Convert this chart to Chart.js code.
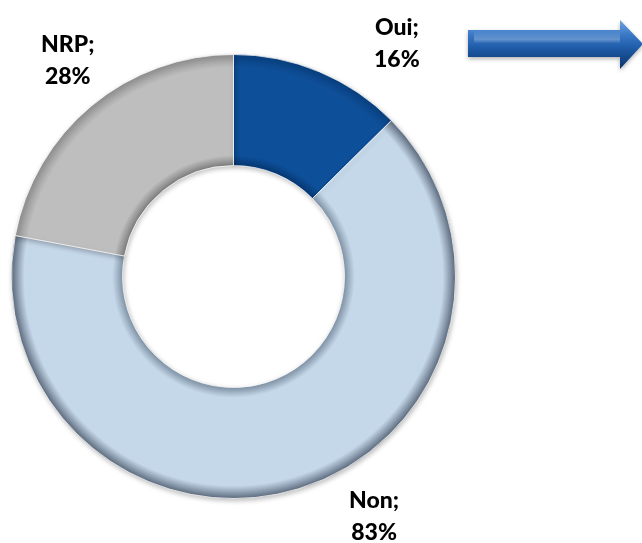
<!DOCTYPE html>
<html>
<head>
<meta charset="utf-8">
<script src="https://cdn.jsdelivr.net/npm/chart.js@4.4.0/dist/chart.umd.min.js"></script>
<style>
  html, body { margin: 0; padding: 0; background: #ffffff; }
  .chart-size { position: relative; width: 642px; height: 543px; }
</style>
</head>
<body>
<div class="chart-size">
  <canvas id="chart"></canvas>
</div>
<script>
// data
const categories = ['Oui', 'Non', 'NRP'];
const percentValues = [16, 83, 28];

// styles
const sliceColors = ['#0E4F99', '#C5D8EA', '#BEBEBE'];
const sliceEdges = [
    { inner: '#063873', outer: '#093F7E' },
    { inner: '#8497AA', outer: '#59687A' },
    { inner: '#7F7F7F', outer: '#8E8E8E' }
];
// label placement relative to each slice: angle shift (deg), distance beyond outer edge (px)
const labelPlacement = [
    { shift: 12.3, dist: 63 },
    { shift: -13.5, dist: 55 },
    { shift: 2.3, dist: 51 }
];
const labelFont = '900 23px Lato';
const lineGap = 32;

function ringGradient(context) {
    const i = context.dataIndex;
    const area = context.chart.chartArea;
    if (!area) return sliceColors[i];
    const cx = (area.left + area.right) / 2;
    const cy = (area.top + area.bottom) / 2;
    const outer = Math.min(area.right - area.left, area.bottom - area.top) / 2;
    const inner = outer * 0.5;
    const g = context.chart.ctx.createRadialGradient(cx, cy, inner, cx, cy, outer);
    g.addColorStop(0, sliceEdges[i].inner);
    g.addColorStop(0.09, sliceColors[i]);
    g.addColorStop(0.88, sliceColors[i]);
    g.addColorStop(1, sliceEdges[i].outer);
    return g;
}

const labelsPlugin = {
    id: 'sliceLabels',
    afterDatasetsDraw(chart) {
        const ctx = chart.ctx;
        const meta = chart.getDatasetMeta(0);
        ctx.save();
        ctx.font = labelFont;
        ctx.fillStyle = '#000000';
        ctx.textAlign = 'center';
        ctx.textBaseline = 'alphabetic';
        meta.data.forEach((arc, i) => {
            const p = arc.getProps(['x', 'y', 'startAngle', 'endAngle', 'outerRadius'], true);
            const mid = (p.startAngle + p.endAngle) / 2 + labelPlacement[i].shift * Math.PI / 180;
            const r = p.outerRadius + labelPlacement[i].dist;
            const lx = p.x + Math.cos(mid) * r;
            const ly = p.y + Math.sin(mid) * r;
            ctx.fillText(categories[i] + ';', lx, ly - lineGap / 2 + 8.5);
            ctx.fillText(percentValues[i] + '%', lx, ly + lineGap / 2 + 8.5);
        });
        ctx.restore();
    }
};

const shadowPlugin = {
    id: 'ringShadow',
    beforeDatasetsDraw(chart) {
        const ctx = chart.ctx;
        ctx.save();
        ctx.shadowColor = 'rgba(0,0,0,0.25)';
        ctx.shadowBlur = 5;
        ctx.shadowOffsetX = 1;
        ctx.shadowOffsetY = 2;
    },
    afterDatasetsDraw(chart) {
        chart.ctx.restore();
    }
};

// decorative arrow in the top right corner
const arrowPlugin = {
    id: 'arrow',
    afterDraw(chart) {
        const ctx = chart.ctx;
        ctx.save();
        const g = ctx.createLinearGradient(0, 20, 0, 70);
        g.addColorStop(0, '#6FA2DD');
        g.addColorStop(0.3, '#3A78C6');
        g.addColorStop(0.55, '#1F5CA9');
        g.addColorStop(1, '#0A3166');
        ctx.shadowColor = 'rgba(0,0,0,0.3)';
        ctx.shadowBlur = 4;
        ctx.shadowOffsetY = 2;
        ctx.beginPath();
        ctx.moveTo(468, 30);
        ctx.lineTo(620, 30);
        ctx.lineTo(620, 20);
        ctx.lineTo(643, 44);
        ctx.lineTo(620, 69);
        ctx.lineTo(620, 57);
        ctx.lineTo(468, 57);
        ctx.closePath();
        ctx.fillStyle = g;
        ctx.fill();
        ctx.shadowColor = 'transparent';
        // bevel highlight on the shaft
        const h = ctx.createLinearGradient(0, 30, 0, 57);
        h.addColorStop(0, 'rgba(255,255,255,0.0)');
        h.addColorStop(0.35, 'rgba(255,255,255,0.25)');
        h.addColorStop(0.5, 'rgba(255,255,255,0.0)');
        ctx.fillStyle = h;
        ctx.fillRect(474, 31, 146, 25);
        ctx.restore();
    }
};

const ctx = document.getElementById('chart').getContext('2d');
new Chart(ctx, {
    type: 'doughnut',
    data: {
        labels: categories,
        datasets: [{
            data: percentValues,
            backgroundColor: ringGradient,
            borderColor: 'rgba(255,255,255,0.7)',
            borderWidth: 1,
            hoverOffset: 0
        }]
    },
    options: {
        responsive: true,
        maintainAspectRatio: false,
        animation: false,
        cutout: '50%',
        layout: { padding: { left: 11, right: 186, top: 54, bottom: 44 } },
        plugins: {
            legend: { display: false },
            tooltip: { enabled: false }
        }
    },
    plugins: [shadowPlugin, labelsPlugin, arrowPlugin]
});
</script>
</body>
</html>
